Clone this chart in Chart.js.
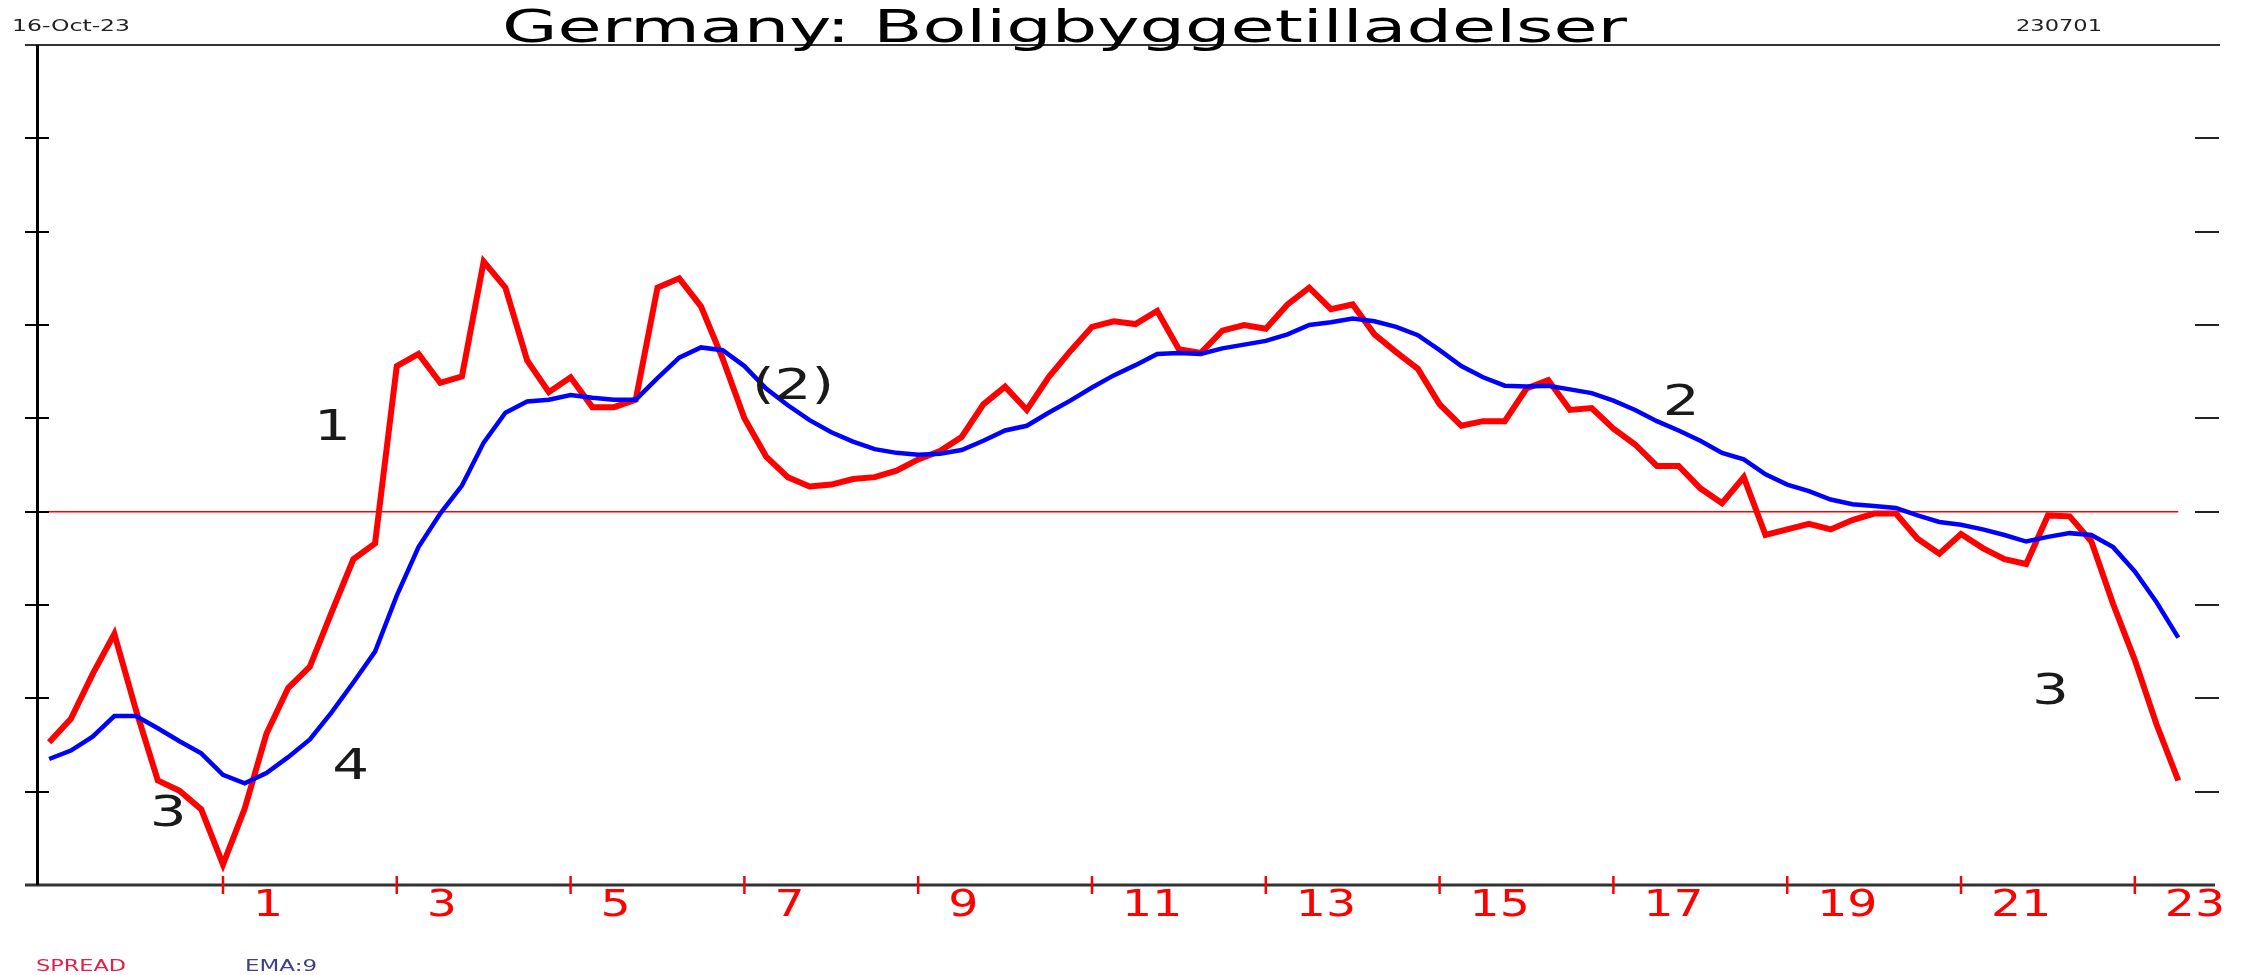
<!DOCTYPE html>
<html>
<head>
<meta charset="utf-8">
<title>Germany: Boligbyggetilladelser</title>
<script src="https://cdn.jsdelivr.net/npm/chart.js@4.4.0/dist/chart.umd.min.js"></script>
<style>
  html, body { margin: 0; padding: 0; background: #fff; }
</style>
</head>
<body>
<canvas id="chart" width="2259" height="975"></canvas>
<script>
// Quarterly series, first point = 1999 Q1
const startYear = 1999;

const spread = [
  -2.47, -2.22, -1.74, -1.31, -2.13, -2.88, -2.99, -3.19, -3.78, -3.18,
  -2.38, -1.89, -1.66, -1.08, -0.51, -0.34, 1.56, 1.69, 1.38, 1.45,
  2.68, 2.40, 1.62, 1.28, 1.44, 1.12, 1.12, 1.20, 2.40, 2.50,
  2.20, 1.64, 1.00, 0.59, 0.37, 0.27, 0.29, 0.35, 0.37, 0.44,
  0.56, 0.65, 0.80, 1.15, 1.34, 1.09, 1.44, 1.72, 1.98, 2.04,
  2.01, 2.15, 1.74, 1.70, 1.94, 2.00, 1.96, 2.22, 2.40, 2.17,
  2.22, 1.90, 1.71, 1.53, 1.15, 0.92, 0.97, 0.97, 1.32, 1.41,
  1.09, 1.11, 0.89, 0.72, 0.49, 0.49, 0.25, 0.09, 0.37, -0.25,
  -0.19, -0.13, -0.19, -0.09, -0.02, -0.02, -0.29, -0.45, -0.24, -0.39,
  -0.51, -0.56, -0.04, -0.05, -0.32, -0.99, -1.59, -2.28, -2.88
];

const ema9 = [
  -2.65, -2.56, -2.41, -2.19, -2.19, -2.32, -2.46, -2.59, -2.82, -2.91,
  -2.80, -2.63, -2.44, -2.15, -1.83, -1.50, -0.90, -0.38, -0.02, 0.28,
  0.74, 1.06, 1.18, 1.20, 1.25, 1.22, 1.20, 1.20, 1.43, 1.65,
  1.76, 1.73, 1.56, 1.32, 1.14, 0.98, 0.85, 0.75, 0.67, 0.63,
  0.61, 0.62, 0.66, 0.76, 0.87, 0.92, 1.06, 1.19, 1.33, 1.46,
  1.57, 1.69, 1.70, 1.69, 1.75, 1.79, 1.83, 1.90, 2.00, 2.03,
  2.07, 2.04, 1.98, 1.89, 1.73, 1.56, 1.44, 1.35, 1.34, 1.35,
  1.31, 1.27, 1.19, 1.09, 0.97, 0.87, 0.76, 0.63, 0.56, 0.40,
  0.29, 0.22, 0.13, 0.08, 0.06, 0.04, -0.04, -0.11, -0.14, -0.19,
  -0.25, -0.32, -0.27, -0.23, -0.25, -0.38, -0.64, -0.97, -1.35
];

const yearTicks = [2001, 2003, 2005, 2007, 2009, 2011, 2013, 2015, 2017, 2019, 2021, 2023];
const yearLabels = ['1', '3', '5', '7', '9', '11', '13', '15', '17', '19', '21', '23'];
const yTicks = [-3, -2, -1, 0, 1, 2, 3, 4];

// wave labels drawn on the chart (centre of glyph, in data units)
const noteText = ['3', '1', '4', '(2)', '2', '3'];
const noteX = [2000.37, 2002.26, 2002.47, 2007.56, 2017.78, 2022.03];
const noteY = [-3.20, 0.93, -2.70, 1.37, 1.20, -1.89];

const FONT = '"DejaVu Sans"';

// Century Gothic is wide, so stretch DejaVu horizontally
function stretchText(ctx, text, x, y, size, sx, color, align) {
  ctx.save();
  ctx.font = size + 'px ' + FONT;
  ctx.fillStyle = color;
  ctx.textBaseline = 'alphabetic';
  ctx.textAlign = align || 'left';
  ctx.translate(x, y);
  ctx.scale(sx, 1);
  ctx.fillText(text, 0, 0);
  ctx.restore();
}

function fitText(ctx, text, x, y, size, width, color) {
  ctx.save();
  ctx.font = size + 'px ' + FONT;
  const sx = width / ctx.measureText(text).width;
  ctx.restore();
  stretchText(ctx, text, x, y, size, sx, color, 'left');
}

const frame = {
  id: 'frame',
  beforeDatasetsDraw(chart) {
    const { ctx, chartArea, scales } = chart;
    // zero line up to the last observation
    const y0 = scales.y.getPixelForValue(0);
    const xEnd = scales.x.getPixelForValue(startYear + (spread.length - 1) / 4);
    ctx.save();
    ctx.strokeStyle = '#ff0000';
    ctx.lineWidth = 1.5;
    ctx.beginPath();
    ctx.moveTo(chartArea.left, y0);
    ctx.lineTo(xEnd, y0);
    ctx.stroke();
    ctx.restore();
  },
  afterDraw(chart) {
    const { ctx, chartArea, scales } = chart;
    const { left, right, top, bottom } = chartArea;
    ctx.save();

    // top and bottom rules
    ctx.strokeStyle = '#333';
    ctx.lineWidth = 2;
    ctx.beginPath();
    ctx.moveTo(25, top);
    ctx.lineTo(right, top);
    ctx.stroke();
    ctx.lineWidth = 3;
    ctx.beginPath();
    ctx.moveTo(25, bottom);
    ctx.lineTo(right - 5, bottom);
    ctx.stroke();

    // left axis
    ctx.strokeStyle = '#000';
    ctx.lineWidth = 3;
    ctx.beginPath();
    ctx.moveTo(left + 0.5, top);
    ctx.lineTo(left + 0.5, bottom);
    ctx.stroke();

    // y ticks, both sides
    ctx.lineWidth = 2;
    yTicks.forEach(v => {
      const y = Math.round(scales.y.getPixelForValue(v));
      ctx.strokeStyle = '#000';
      ctx.beginPath();
      ctx.moveTo(25, y);
      ctx.lineTo(49, y);
      ctx.stroke();
      ctx.strokeStyle = '#222';
      ctx.beginPath();
      ctx.moveTo(right - 25, y);
      ctx.lineTo(right - 1, y);
      ctx.stroke();
    });

    // x ticks and labels
    ctx.strokeStyle = '#ff0000';
    ctx.lineWidth = 2.5;
    yearTicks.forEach((yr, i) => {
      const x = scales.x.getPixelForValue(yr);
      ctx.beginPath();
      ctx.moveTo(x, bottom - 9);
      ctx.lineTo(x, bottom + 9);
      ctx.stroke();
      stretchText(ctx, yearLabels[i], x + 30, 916, 37, 1.28, '#ff0000', 'left');
    });

    // wave labels
    noteText.forEach((t, i) => {
      const x = scales.x.getPixelForValue(noteX[i]);
      const y = scales.y.getPixelForValue(noteY[i]);
      stretchText(ctx, t, x, y + 15.5, 43, 1.35, '#1a1a1a', 'center');
    });

    // header and footer texts
    fitText(ctx, 'Germany: Boligbyggetilladelser', 502, 42, 44, 1125, '#000');
    fitText(ctx, '16-Oct-23', 12, 31, 16, 118, '#222');
    fitText(ctx, '230701', 2016, 31, 16, 86, '#222');
    fitText(ctx, 'SPREAD', 36, 971, 15, 90, '#e0204a');
    fitText(ctx, 'EMA:9', 245, 971, 15, 72, '#40408a');

    ctx.restore();
  }
};

const toPoints = arr => arr.map((v, i) => ({ x: startYear + i / 4, y: v }));

new Chart(document.getElementById('chart'), {
  type: 'line',
  data: {
    datasets: [
      {
        label: 'EMA:9',
        data: toPoints(ema9),
        borderColor: '#0000ff',
        borderWidth: 4.5,
        borderJoinStyle: 'miter',
        pointRadius: 0,
        tension: 0,
        order: 0
      },
      {
        label: 'SPREAD',
        data: toPoints(spread),
        borderColor: '#ff0000',
        borderWidth: 6,
        borderJoinStyle: 'miter',
        pointRadius: 0,
        tension: 0,
        order: 1
      }
    ]
  },
  options: {
    responsive: false,
    animation: false,
    devicePixelRatio: 1,
    layout: { padding: { left: 37, right: 39, top: 45, bottom: 90 } },
    scales: {
      x: { type: 'linear', min: 1998.86, max: 2023.98, display: false },
      y: { type: 'linear', min: -4, max: 5, display: false }
    },
    plugins: {
      legend: { display: false },
      tooltip: { enabled: false }
    }
  },
  plugins: [frame]
});
</script>
</body>
</html>
